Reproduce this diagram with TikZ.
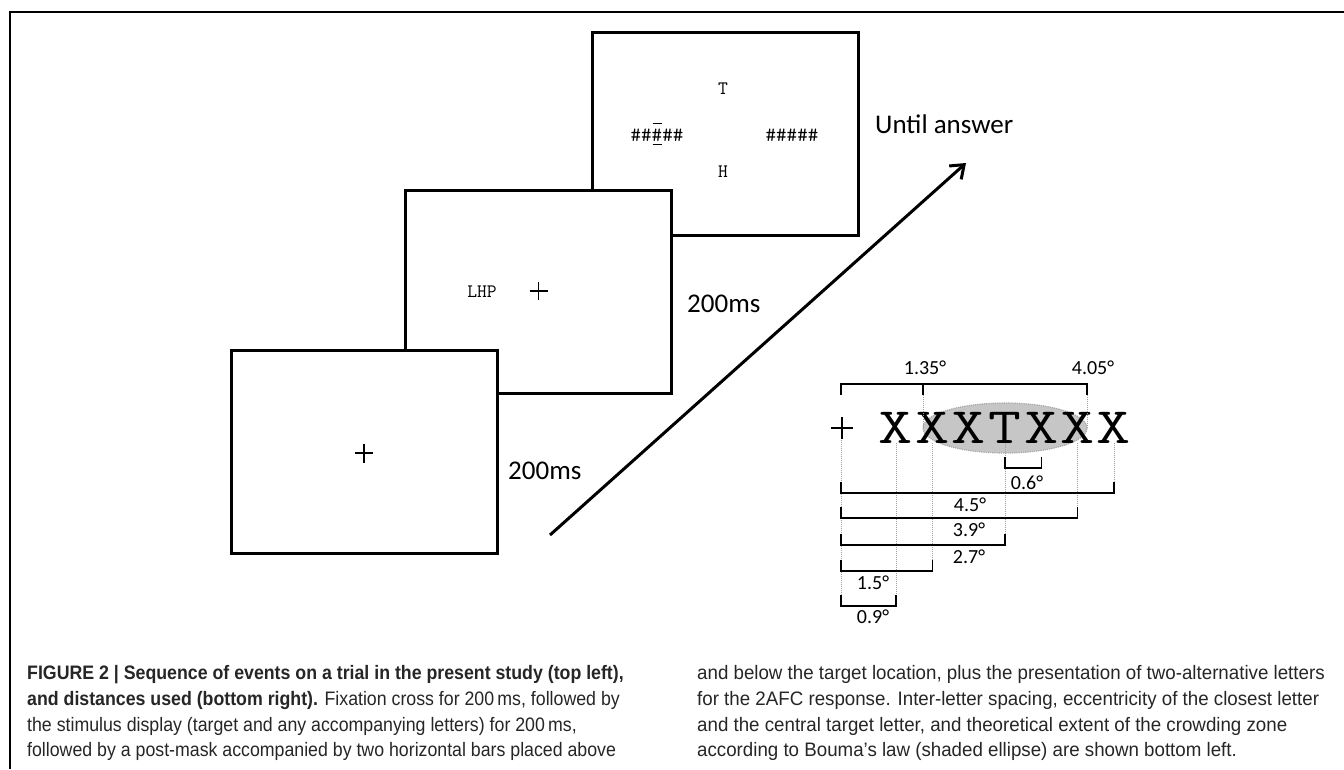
\documentclass[tikz,border=0pt]{standalone}
\usepackage{fontspec}
\setmainfont{Carlito}
\newfontfamily\capfont[FakeStretch=0.96]{Liberation Sans}
\newfontfamily\capfontl[FakeStretch=0.91]{Liberation Sans}
\usetikzlibrary{arrows.meta,calc}
\begin{document}
\begin{tikzpicture}[x=1pt,y=-1pt,
  screen/.style={draw, line width=3pt, fill=white, minimum width=266pt, minimum height=203pt, inner sep=0pt},
  timing/.style={font=\fontsize{27}{32}\selectfont, anchor=base west, inner sep=0pt},
  stim/.style={font=\ttfamily\fontsize{19}{21}\selectfont, inner sep=0pt},
  hashes/.style={font=\ttfamily\fontsize{20.5}{22}\selectfont, inner sep=0pt},
  bigl/.style={font=\ttfamily\fontsize{51}{56}\selectfont, inner sep=0pt},
  deg/.style={font=\fontsize{20}{24}\selectfont, inner sep=0pt},
  bracket/.style={line width=1.5pt},
  guide/.style={densely dotted, draw=gray!75, line width=1pt},
  crossline/.style={line width=1.2pt},
  capline/.style={font=\capfont\fontsize{19.5}{24}\selectfont, anchor=base west, inner sep=0pt, text=black!85},
  caplinel/.style={font=\capfontl\fontsize{19.5}{24}\selectfont, anchor=base west, inner sep=0pt, text=black!85},
  frame/.style={line width=1.3pt}
]
\useasboundingbox (0,0) rectangle (1344,769);
\fill[white] (0,0) rectangle (1344,769);
\draw[frame] (10,769) -- (10,12) -- (1344,12);

% screens
\node[screen] (s3) at (725,133.5) {};
\node[screen] (s2) at (538.5,292) {};
\node[screen] (s1) at (364,451.5) {};

% screen 3 content
\node[stim] (t3) at (723,89) {T};
\node[stim] (h3) at (723,172) {H};
\node[hashes] (lh) at (657,135) {\#\#\#\#\#};
\node[hashes] (rh) at (792,135) {\#\#\#\#\#};
\draw[line width=1pt] ($(lh.center)+(-4.5,-12)$) -- ++(9,0);
\draw[line width=1pt] ($(lh.center)+(-4.5,9)$) -- ++(9,0);

% screen 2 content
\node[stim] (lhp) at (482,292) {LHP};
\coordinate (c2) at (538.5,291);
\draw[crossline] ($(c2)+(-9,0)$) -- ($(c2)+(9,0)$) ($(c2)+(0,-9)$) -- ($(c2)+(0,9)$);

% screen 1 content
\coordinate (c1) at (364,453);
\draw[crossline] ($(c1)+(-9,0)$) -- ($(c1)+(9,0)$) ($(c1)+(0,-9.5)$) -- ($(c1)+(0,9.5)$);

% timing labels
\node[timing] (u) at (875,133) {Until answer};
\node[timing] (d2) at (687,312) {200ms};
\node[timing] (d1) at (508,479) {200ms};

% arrow
\coordinate (a0) at (550,535);
\coordinate (a1) at (966,163);
\draw[line width=3pt, -{Straight Barb[length=12pt,width=18pt]}] (a0) -- (a1);

% distance diagram
\fill[gray!45] (1005,428) ellipse [x radius=82pt, y radius=25pt];
\draw[densely dotted, draw=gray!70, line width=1.2pt] (1005,428) ellipse [x radius=82pt, y radius=25pt];

\node[bigl] (L1) at (896,427.5) {\scalebox{1.3}[1]{X}};
\node[bigl] (L2) at (932.3,427.5) {\scalebox{1.3}[1]{X}};
\node[bigl] (L3) at (968.7,427.5) {\scalebox{1.3}[1]{X}};
\node[bigl] (L4) at (1005,427.5) {\scalebox{1.25}[1]{T}};
\node[bigl] (L5) at (1041.3,427.5) {\scalebox{1.3}[1]{X}};
\node[bigl] (L6) at (1077.7,427.5) {\scalebox{1.3}[1]{X}};
\node[bigl] (L7) at (1114,427.5) {\scalebox{1.3}[1]{X}};

\coordinate (fx) at (842,428);
\draw[line width=1.3pt] ($(fx)+(-11,0)$) -- ($(fx)+(11,0)$) ($(fx)+(0,-11)$) -- ($(fx)+(0,11)$);

% top bracket
\draw[bracket] (841,395) -- (841,384) -- (1087,384) -- (1087,395);
\draw[bracket] (923,384) -- (923,395);
\draw[guide] (923,395) -- (923,428);
\draw[guide] (1087,395) -- (1087,428);
\node[deg] (l135) at (925,368) {1.35°};
\node[deg] (l405) at (1093,368) {4.05°};

% guides
\draw[guide] (841,440) -- (841,606);
\draw[guide] (L1.south) -- (896,606);
\draw[guide] (L2.south) -- (932.3,571);
\draw[guide] (L4.south) -- (1005,545);
\draw[guide] (L6.south) -- (1077.7,518);
\draw[guide] (L7.south) -- (1114,493);

% brackets
\draw[bracket] (1005,457) -- (1005,468) -| (1041.3,457);
\draw[bracket] (841,482) -- (841,493) -| (1114,482);
\draw[bracket] (841,507) -- (841,518) -| (1077.7,507);
\draw[bracket] (841,534) -- (841,545) -| (1005,534);
\draw[bracket] (841,560) -- (841,571) -| (932.3,560);
\draw[bracket] (841,595) -- (841,606) -| (896,595);

\node[deg] (l06) at (1027,483) {0.6°};
\node[deg] (l45) at (970,505) {4.5°};
\node[deg] (l39) at (969,530) {3.9°};
\node[deg] (l27) at (969,557) {2.7°};
\node[deg] (l15) at (873,583) {1.5°};
\node[deg] (l09) at (873,617) {0.9°};

% caption
\node[caplinel] (cap1) at (27,679) {\bfseries FIGURE 2 | Sequence of events on a trial in the present study (top left),};
\node[caplinel] (cap2) at (27,705) {{\bfseries and distances used (bottom right).} Fixation cross for 200\,ms, followed by};
\node[caplinel] (cap3) at (27,731) {the stimulus display (target and any accompanying letters) for 200\,ms,};
\node[caplinel] (cap4) at (27,756) {followed by a post-mask accompanied by two horizontal bars placed above};
\node[capline] (cap5) at (697,679) {and below the target location, plus the presentation of two-alternative letters};
\node[capline] (cap6) at (697,705) {for the 2AFC response. Inter-letter spacing, eccentricity of the closest letter};
\node[capline] (cap7) at (697,731) {and the central target letter, and theoretical extent of the crowding zone};
\node[capline] (cap8) at (697,756) {according to Bouma’s law (shaded ellipse) are shown bottom left.};
\end{tikzpicture}
\end{document}
